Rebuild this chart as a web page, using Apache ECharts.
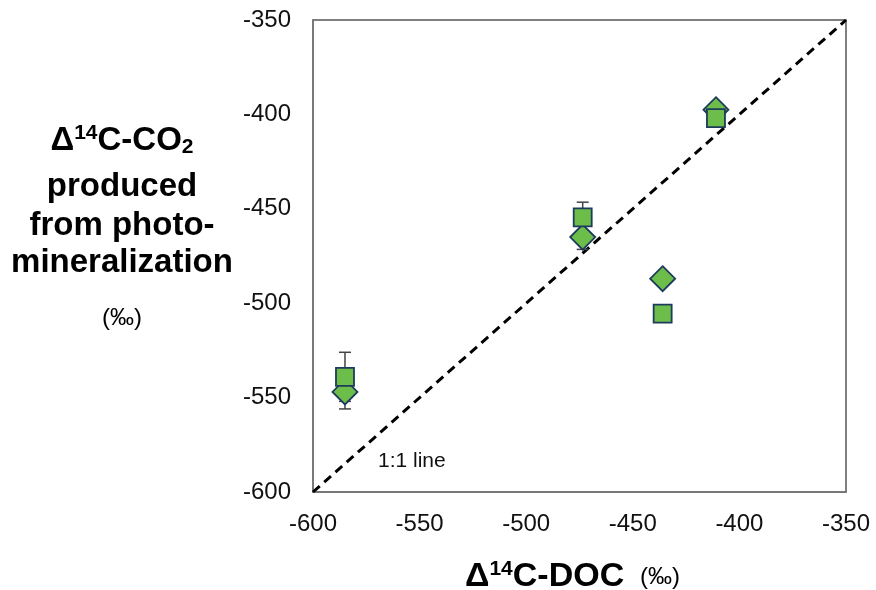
<!DOCTYPE html>
<html>
<head>
<meta charset="utf-8">
<script src="https://cdn.jsdelivr.net/npm/echarts@6/dist/echarts.min.js"></script>
<style>
  html, body { margin: 0; padding: 0; background: #fff; }
  #chart { width: 876px; height: 590px; }
</style>
</head>
<body>
<div id="chart"></div>
<script>
// Δ14C of DOC (x) vs Δ14C of CO2 produced from photo-mineralization (y), in ‰
var docValues = [-585, -473.5, -436, -411];
var squareValues = [-539, -454.5, -505.5, -402];
var squareErrors = [13, 8, 0, 0];
var diamondValues = [-547, -465, -487, -397.5];
var diamondErrors = [9, 6.5, 0, 0];
var oneToOne = [[-600, -600], [-350, -350]];
var axisTicks = [-600, -550, -500, -450, -400, -350];

var FONT = '"Liberation Sans", Arial, Helvetica, sans-serif';
var FILL = '#6dbd4b';
var EDGE = '#1d3b5c';

function pairs(ys) {
  return docValues.map(function (x, i) { return [x, ys[i]]; });
}
function errorData(ys, errs) {
  return docValues.map(function (x, i) { return [x, ys[i] - errs[i], ys[i] + errs[i]]; })
    .filter(function (d) { return d[2] > d[1]; });
}
function renderError(params, api) {
  var x = api.value(0);
  var lo = api.coord([x, api.value(1)]);
  var hi = api.coord([x, api.value(2)]);
  var half = 6;
  var style = { stroke: '#444', lineWidth: 1.5 };
  return {
    type: 'group',
    children: [
      { type: 'line', shape: { x1: lo[0], y1: lo[1], x2: hi[0], y2: hi[1] }, style: style },
      { type: 'line', shape: { x1: lo[0] - half, y1: lo[1], x2: lo[0] + half, y2: lo[1] }, style: style },
      { type: 'line', shape: { x1: hi[0] - half, y1: hi[1], x2: hi[0] + half, y2: hi[1] }, style: style }
    ]
  };
}

var chart = echarts.init(document.getElementById('chart'), null, { renderer: 'canvas' });

var axisCommon = {
  type: 'value',
  min: axisTicks[0],
  max: axisTicks[axisTicks.length - 1],
  interval: 50,
  axisLine: { show: true, lineStyle: { color: '#777', width: 1.5 } },
  axisTick: { show: false },
  splitLine: { show: false },
  axisLabel: { color: '#111', fontSize: 24, fontFamily: FONT }
};

chart.setOption({
  animation: false,
  backgroundColor: '#fff',
  grid: { left: 313, top: 20, right: 30, bottom: 98, show: true, borderColor: '#555', borderWidth: 1.5 },
  xAxis: Object.assign({}, axisCommon, { axisLabel: Object.assign({}, axisCommon.axisLabel, { margin: 20 }) }),
  yAxis: Object.assign({}, axisCommon, { axisLabel: Object.assign({}, axisCommon.axisLabel, { margin: 22 }) }),
  series: [
    {
      type: 'line',
      data: oneToOne,
      symbol: 'none',
      lineStyle: { color: '#000', width: 3, type: [9, 6] },
      z: 1,
      silent: true
    },
    {
      type: 'custom',
      renderItem: renderError,
      data: errorData(squareValues, squareErrors),
      z: 2
    },
    {
      type: 'custom',
      renderItem: renderError,
      data: errorData(diamondValues, diamondErrors),
      z: 2
    },
    {
      type: 'scatter',
      data: pairs(diamondValues),
      symbol: 'diamond',
      symbolSize: [25, 25],
      itemStyle: { color: FILL, borderColor: EDGE, borderWidth: 1.8, opacity: 1 },
      z: 3
    },
    {
      type: 'scatter',
      data: pairs(squareValues),
      symbol: 'rect',
      symbolSize: 18,
      itemStyle: { color: FILL, borderColor: EDGE, borderWidth: 1.8, opacity: 1 },
      z: 4
    }
  ],
  graphic: [
    {
      type: 'text', left: 378, top: 451,
      style: { text: '1:1 line', font: '21px ' + FONT, fill: '#111' }
    },
    {
      type: 'text', x: 122, y: 123,
      style: {
        text: 'Δ{sup|14}C-CO{sub|2}',
        align: 'center',
        font: 'bold 33px ' + FONT,
        fill: '#000',
        rich: {
          sup: { font: 'bold 21px ' + FONT, fill: '#000', verticalAlign: 'top', padding: [0, 0, 14, 0] },
          sub: { font: 'bold 21px ' + FONT, fill: '#000', padding: [14, 0, 0, 0] }
        }
      }
    },
    {
      type: 'text', x: 122, y: 170,
      style: { text: 'produced', align: 'center', font: 'bold 33px ' + FONT, fill: '#000' }
    },
    {
      type: 'text', x: 122, y: 209,
      style: { text: 'from photo-', align: 'center', font: 'bold 33px ' + FONT, fill: '#000' }
    },
    {
      type: 'text', x: 122, y: 246,
      style: { text: 'mineralization', align: 'center', font: 'bold 33px ' + FONT, fill: '#000' }
    },
    {
      type: 'text', x: 122, y: 306,
      style: { text: '(‰)', align: 'center', font: '24px ' + FONT, fill: '#000' }
    },
    {
      type: 'text', x: 465, y: 559,
      style: {
        text: 'Δ{sup|14}C-DOC',
        font: 'bold 34px ' + FONT,
        fill: '#000',
        rich: {
          sup: { font: 'bold 21px ' + FONT, fill: '#000', padding: [0, 0, 14, 0] }
        }
      }
    },
    {
      type: 'text', x: 640, y: 565,
      style: { text: '(‰)', font: '24px ' + FONT, fill: '#000' }
    }
  ]
});
</script>
</body>
</html>
